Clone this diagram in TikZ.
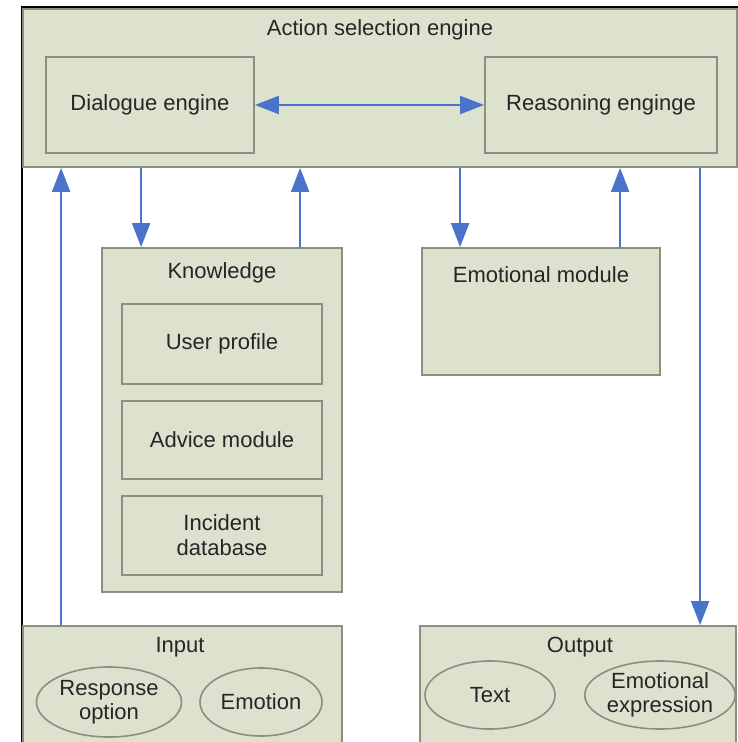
\documentclass[tikz,border=0pt]{standalone}
\usepackage{fontspec}
\setmainfont{Liberation Sans}
\usetikzlibrary{arrows.meta,shapes.geometric}
\definecolor{boxfill}{HTML}{DCE2CE}
\definecolor{boxline}{HTML}{8A9080}
\definecolor{arrblue}{HTML}{4A74C9}
\definecolor{txt}{HTML}{262626}
\tikzset{
  box/.style={draw=boxline, fill=boxfill, line width=1.8pt, rectangle, inner sep=0pt, text=txt, font=\fontsize{22}{25}\selectfont, align=center},
  oval/.style={draw=boxline, fill=boxfill, line width=1.6pt, ellipse, inner sep=0pt, text=txt, font=\fontsize{22}{24}\selectfont, align=center},
  ttl/.style={text=txt, font=\fontsize{22}{25}\selectfont, inner sep=0pt},
  arr/.style={draw=arrblue, line width=2pt, -{Triangle[length=24pt,width=18pt]}},
  darr/.style={draw=arrblue, line width=2pt, {Triangle[length=24pt,width=18pt]}-{Triangle[length=24pt,width=18pt]}}
}
\begin{document}
\begin{tikzpicture}[x=1pt,y=-1pt]
\clip (0,0) rectangle (738,742);
\fill[white] (0,0) rectangle (738,742);
% outer frame
\draw[black, line width=2.5pt] (22,742) -- (22,7) -- (738,7);
% action selection engine
\node[box, minimum width=714pt, minimum height=158pt] (act) at (380,88) {};
\node[ttl] (acttitle) at (380,30) {Action selection engine};
\node[box, minimum width=208pt, minimum height=96pt] (dia) at (150,105) {Dialogue engine};
\node[box, minimum width=232pt, minimum height=96pt] (rea) at (601,105) {Reasoning enginge};
% knowledge
\node[box, minimum width=240pt, minimum height=344pt] (know) at (222,420) {};
\node[ttl] (knowtitle) at (222,273) {Knowledge};
\node[box, minimum width=200pt, minimum height=80pt] (user) at (222,344) {User profile};
\node[box, minimum width=200pt, minimum height=78pt] (adv) at (222,440) {Advice module};
\node[box, minimum width=200pt, minimum height=79pt] (inc) at (222,535.5) {Incident\\database};
% emotional module
\node[box, minimum width=238pt, minimum height=127pt] (emo) at (541,311.5) {};
\node[ttl] (emotitle) at (541,275) {Emotional module};
% input
\node[box, minimum width=319pt, minimum height=134pt] (inp) at (182.5,693) {};
\node[ttl] (inptitle) at (180,647) {Input};
\node[oval, minimum width=145pt, minimum height=70pt] (resp) at (109,702) {Response\\option};
\node[oval, minimum width=122pt, minimum height=68pt] (emotion) at (261,702) {Emotion};
% output
\node[box, minimum width=316pt, minimum height=134pt] (out) at (578,693) {};
\node[ttl] (outtitle) at (580,647) {Output};
\node[oval, minimum width=130pt, minimum height=68pt] (text) at (490,695) {Text};
\node[oval, minimum width=135pt, minimum height=68pt] (expr) at (660,695) {Emotional\\expression};
% connectors
\draw[darr] (dia.east) -- (rea.west);
\draw[arr] ([xshift=39pt]inp.north west) -- ([xshift=39pt]act.south west);
\draw[arr] ([xshift=40pt]know.north west |- act.south) -- ([xshift=40pt]know.north west);
\draw[arr] ([xshift=199pt]know.north west) -- ([xshift=199pt]know.north west |- act.south);
\draw[arr] ([xshift=39pt]emo.north west |- act.south) -- ([xshift=39pt]emo.north west);
\draw[arr] ([xshift=199pt]emo.north west) -- ([xshift=199pt]emo.north west |- act.south);
\draw[arr] ([xshift=281pt]out.north west |- act.south) -- ([xshift=281pt]out.north west);
\end{tikzpicture}
\end{document}
